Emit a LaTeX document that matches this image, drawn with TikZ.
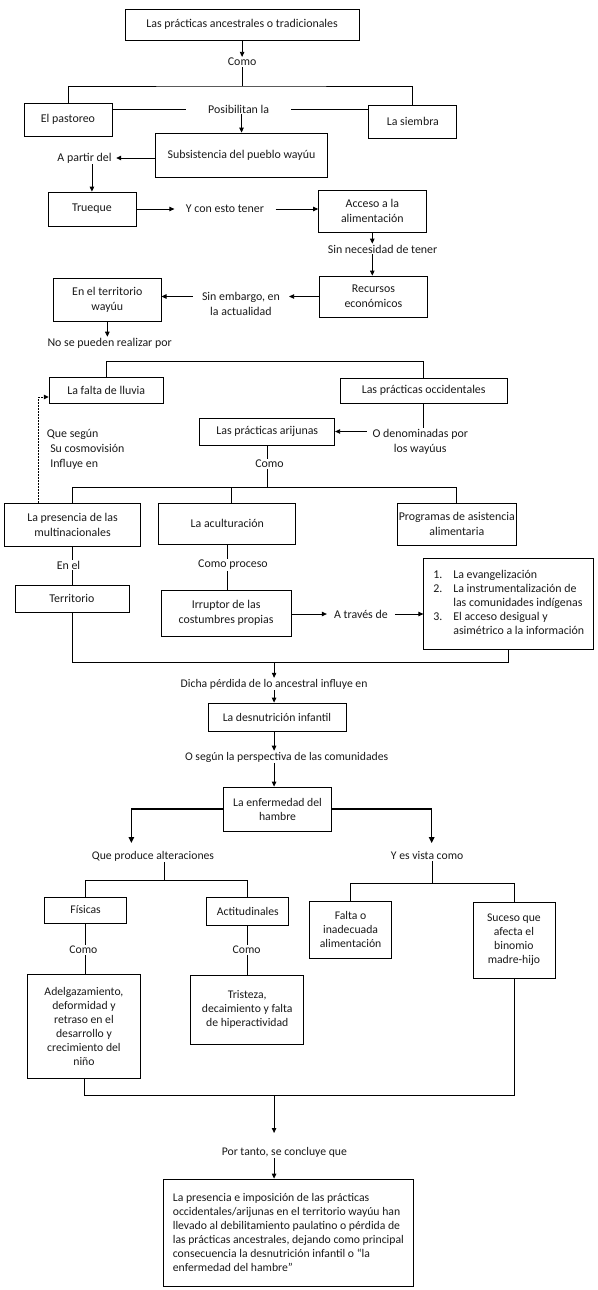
\documentclass[tikz,border=0pt]{standalone}
\usepackage{fontspec}
\setmainfont{Carlito}
\usetikzlibrary{arrows.meta,calc}
\newcommand\upfs{\fontsize{11.9}{15}\selectfont}
\newcommand\lowfs{\fontsize{11.7}{14}\selectfont}
\begin{document}
\begin{tikzpicture}[x=1.142pt,y=-1pt,
  every node/.style={font=\upfs, text=black!90},
  box/.style={draw, line width=0.8pt, inner sep=0pt, align=center},
  lbl/.style={inner sep=1pt, align=center},
  ln/.style={line width=0.8pt},
  arr/.style={line width=0.8pt, -{Triangle[length=5pt,width=4.5pt]}},
  tarr/.style={line width=1.3pt, -{Triangle[length=6pt,width=5.5pt]}},
  dsh/.style={line width=1pt, dash pattern=on 2pt off 1pt, -{Triangle[length=5pt,width=4.5pt]}}]
\useasboundingbox (0,0) rectangle (523.64,1290);

% ---------- top part ----------
\node[box, minimum width=234, minimum height=31] (t1) at (212,24.5) {Las prácticas ancestrales o tradicionales};
\node[lbl] (como1) at (212,62) {Como};
\coordinate (j1) at (212,86);
\node[box, minimum width=88, minimum height=33] (past) at (59.5,119.5) {El pastoreo};
\node[box, minimum width=88, minimum height=33] (siem) at (361.5,121.5) {La siembra};
\node[lbl, inner xsep=21.7pt] (posib) at (209,109) {Posibilitan la};
\node[box, minimum width=172.5, minimum height=44] (subs) at (211.5,155) {Subsistencia del pueblo wayúu};
\node[lbl, inner xsep=4.5pt] (apartir) at (74,158) {A partir del};
\node[box, minimum width=88, minimum height=34] (truq) at (80.5,209) {Trueque};
\node[lbl, inner xsep=11.4pt] (ycon) at (197,209) {Y con esto tener};
\node[box, minimum width=107.5, minimum height=42] (acc) at (326,211) {Acceso a la\\alimentación};
\node[lbl] (sinnec) at (335,249) {Sin necesidad de tener};
\node[box, minimum width=107.5, minimum height=41] (rec) at (327,296.5) {Recursos\\económicos};
\node[lbl, inner xsep=9pt] (sinemb) at (211,304) {Sin embargo, en\\la actualidad};
\node[box, minimum width=107.5, minimum height=43] (terr) at (94,299.5) {En el territorio\\wayúu};
\node[lbl] (nosepu) at (96,343) {No se pueden realizar por};

\draw[arr] (t1.south) -- (como1.north);
\draw[ln] (como1.south) -- (j1);
\draw[ln] (past.north) |- (j1) -| (siem.north);
\draw[ln] (past.east |- posib.west) -- (posib.west);
\draw[ln] (posib.east) -- (siem.west |- posib.east);
\draw[arr] (subs.north |- posib.south) -- (subs.north);
\draw[arr] (subs.west |- apartir.east) -- (apartir.east);
\draw[arr] (truq.north |- apartir.south) -- (truq.north);
\draw[arr] (truq.east) -- (ycon.west);
\draw[arr] (ycon.east) -- (acc.west |- ycon.east);
\draw[arr] (acc.south) -- (acc.south |- sinnec.north);
\draw[arr] (acc.south |- sinnec.south) -- (acc.south |- rec.north);
\draw[arr] (rec.west) -- (sinemb.east |- rec.west);
\draw[arr] (sinemb.west |- rec.west) -- (terr.east |- rec.west);
\draw[arr] (terr.south) -- (terr.south |- nosepu.north);

% ---------- middle part ----------
\coordinate (j2) at (95,361);
\node[box, minimum width=114, minimum height=26] (lluv) at (93,390) {La falta de lluvia};
\node[box, minimum width=167, minimum height=25] (occ) at (371,390.5) {Las prácticas occidentales};
\node[lbl, inner xsep=5.7pt] (oden) at (368,441.5) {O denominadas por\\los wayúus};
\node[box, minimum width=135, minimum height=27] (arij) at (234,431.5) {Las prácticas arijunas};
\node[lbl] (como2) at (236,464) {Como};
\node[lbl, anchor=west, align=left] (quesegun) at (40,449.5) {Que según\\\hspace*{3.4pt}Su cosmovisión\\\hspace*{3.4pt}Influye en};
\coordinate (j3) at (234,487);
\node[box, minimum width=136, minimum height=43] (pres) at (63.5,524.5) {La presencia de las\\multinacionales};
\node[box, minimum width=137, minimum height=41] (acul) at (199,523.5) {La aculturación};
\node[box, minimum width=119, minimum height=42] (prog) at (400,524) {Programas de asistencia\\alimentaria};
\node[lbl] (enel) at (60,565) {En el};
\node[box, minimum width=114, minimum height=27] (terr2) at (63,598.5) {Territorio};
\node[lbl] (comoproc) at (204,565) {Como proceso};
\node[box, minimum width=130, minimum height=46] (irr) at (198,613) {Irruptor de las\\costumbres propias};
\node[lbl, inner xsep=7pt] (atrav) at (316,614) {A través de};
\node[box, minimum width=170, minimum height=91, align=left] (lista) at (445.5,603.5)
  {\begin{tabular}{@{}l@{\hspace{11pt}}l@{}}
   1. & La evangelización\\[-1pt]
   2. & La instrumentalización de\\[-1pt]
      & las comunidades indígenas\\[-1pt]
   3. & El acceso desigual y\\[-1pt]
      & asimétrico a la información
   \end{tabular}};
\coordinate (j4) at (240,662);

\draw[ln] (lluv.north) |- (j2 -| occ.north) -- (occ.north);
\draw[ln] (occ.south) -- (occ.south |- oden.north);
\draw[arr] (oden.west |- arij.east) -- (arij.east);
\draw[ln] (arij.south) -- (arij.south |- como2.north);
\draw[ln] (arij.south |- como2.south) -- (j3);
\draw[ln] (pres.north) |- (j3 -| prog.north) -- (prog.north);
\draw[ln] ([xshift=4.6pt]acul.north) -- ([xshift=4.6pt]acul.north |- j3);
\draw[dsh] ([xshift=-33.7pt]pres.north) |- ([yshift=-7pt]lluv.west);
\draw[ln] (pres.south) -- (pres.south |- enel.north);
\draw[ln] (pres.south |- enel.south) -- (pres.south |- terr2.north);
\draw[ln] (acul.south) -- (acul.south |- comoproc.north);
\draw[ln] (acul.south |- comoproc.south) -- (acul.south |- irr.north);
\draw[arr] (irr.east |- atrav.west) -- (atrav.west);
\draw[arr] (atrav.east) -- (lista.west |- atrav.east);
\draw[ln] (terr2.south) |- (lista.south |- j4) -- (lista.south);

% ---------- lower part ----------
\begin{scope}[every node/.append style={font=\lowfs}]
\node[lbl] (dicha) at (240,684) {Dicha pérdida de lo ancestral influye en};
\node[box, minimum width=138, minimum height=28] (desn) at (242.5,717) {La desnutrición infantil};
\node[lbl] (osegun) at (251,757) {O según la perspectiva de las comunidades};
\node[box, minimum width=107.5, minimum height=44] (enf) at (243,809) {La enfermedad del\\hambre};
\coordinate (qp) at (115,843);
\coordinate (yv) at (378,843);
\node[lbl] (queprod) at (134,856) {Que produce alteraciones};
\node[lbl] (yesv) at (374,856) {Y es vista como};
\coordinate (j5) at (144,880);
\coordinate (j6) at (379,883);
\node[box, minimum width=82, minimum height=26] (fis) at (75,910) {Físicas};
\node[box, minimum width=82, minimum height=28] (act) at (217,911) {Actitudinales};
\node[lbl] (como3) at (73,950) {Como};
\node[lbl] (como4) at (216,950) {Como};
\node[box, minimum width=113, minimum height=104] (adel) at (73.5,1026) {Adelgazamiento,\\deformidad y\\retraso en el\\desarrollo y\\crecimiento del\\niño};
\node[box, minimum width=113, minimum height=69] (tris) at (216.5,1009.5) {Tristeza,\\decaimiento y falta\\de hiperactividad};
\node[box, minimum width=82, minimum height=57] (falta) at (307,929.5) {Falta o\\inadecuada\\alimentación};
\node[box, minimum width=82, minimum height=76] (suc) at (450,940) {Suceso que\\afecta el\\binomio\\madre-hijo};
\coordinate (j7) at (240,1095);
\coordinate (j8) at (240,1133);
\node[lbl] (portanto) at (249,1152) {Por tanto, se concluye que};
\node[box, minimum width=250, minimum height=107, align=left] (fin) at (252.5,1232.5) {La presencia e imposición de las prácticas\\occidentales/arijunas en el territorio wayúu han\\llevado al debilitamiento paulatino o pérdida de\\las prácticas ancestrales, dejando como principal\\consecuencia la desnutrición infantil o “la\\enfermedad del hambre”};
\end{scope}

\draw[arr] (j4) -- (dicha.north);
\draw[arr] (j4 |- dicha.south) -- (j4 |- desn.north);
\draw[arr] (j4 |- desn.south) -- (j4 |- osegun.north);
\draw[arr] (j4 |- osegun.south) -- (j4 |- enf.north);
\draw[tarr] (enf.west) -| (qp);
\draw[tarr] (enf.east) -| (yv);
\draw[ln] (queprod.south -| j5) -- (j5);
\draw[ln] (fis.north) |- (j5) -| (act.north);
\draw[ln] (fis.south) -- (fis.south |- como3.north);
\draw[ln] (fis.south |- como3.south) -- (fis.south |- adel.north);
\draw[ln] (act.south) -- (act.south |- como4.north);
\draw[ln] (act.south |- como4.south) -- (act.south |- tris.north);
\draw[ln] (yesv.south -| j6) -- (j6);
\draw[ln] (falta.north) |- (j6) -| (suc.north);
\draw[ln] (adel.south) |- (suc.south |- j7) -- (suc.south);
\draw[arr] (j7) -- (j8);
\draw[arr] (j7 |- portanto.south) -- (j7 |- fin.north);
\end{tikzpicture}
\end{document}
